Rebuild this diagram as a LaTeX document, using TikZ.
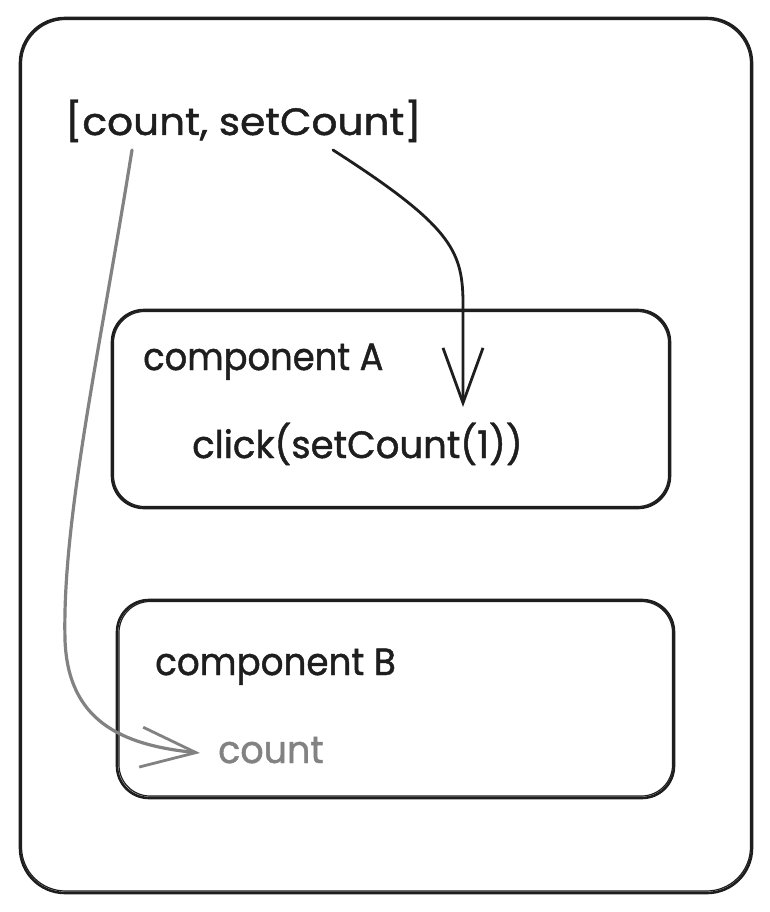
\documentclass[tikz,border=0pt]{standalone}
\usepackage{fontspec}
\setmainfont{Poppins}
\newfontfamily\handfont{Poppins}[FakeBold=1.2]
\usetikzlibrary{arrows.meta}
\definecolor{ink}{HTML}{1E1E1E}
\definecolor{arrowgray}{HTML}{828282}
\begin{document}
\begin{tikzpicture}[x=1pt,y=-1pt]
\tikzset{
  box/.style={draw=ink, line width=2.6pt, inner sep=0pt},
  sketch/.style={draw=ink, line width=1.2pt},
  lbl/.style={font=\handfont\fontsize{38}{42}\selectfont, anchor=base west, inner sep=0pt, text=ink},
  conn/.style={line width=2.8pt, line cap=round, line join=round},
  tip/.style={-{Straight Barb[length=55pt,width=40pt,line width=2.8pt]}}
}
\useasboundingbox[fill=white] (0,0) rectangle (770,912);
% boxes
\node[box, rounded corners=45pt, minimum width=732pt, minimum height=875pt] (outer) at (386,455.5) {};
\draw[sketch, rounded corners=44pt] (21.5,19.5) rectangle (750.5,891);
\node[box, rounded corners=32pt, minimum width=558pt, minimum height=198pt] (boxA) at (391,409) {};
\draw[sketch, rounded corners=31pt] (113.5,311.5) rectangle (668.5,506.5);
\node[box, rounded corners=32pt, minimum width=557pt, minimum height=198pt] (boxB) at (395.5,699) {};
\draw[sketch, rounded corners=31pt] (119,601.5) rectangle (672.5,796);
% texts
\node[lbl] (state) at (65,135) {\scalebox{1.07}[1]{[count, setCount]}};
\node[lbl] (ca) at (143,370) {\scalebox{0.93}[1]{component A}};
\node[lbl] (click) at (192,458) {\scalebox{0.975}[1]{click(setCount(1))}};
\node[lbl] (cb) at (155,675) {\scalebox{0.94}[1]{component B}};
\node[lbl, text=arrowgray] (cnt) at (218,763) {\scalebox{0.96}[1]{count}};
% connectors
\coordinate (s1) at (333,150);
\coordinate (tA) at (463,407);
\draw[conn, tip, draw=ink] (s1) .. controls (450,225) and (462,250) .. (463,300) -- (tA);
\coordinate (s2) at (132,150);
\coordinate (tB) at (200,753);
\draw[conn, tip, draw=arrowgray, line width=3.2pt] (s2) .. controls (100,350) and (62,520) .. (65,640) .. controls (68,720) and (120,745) .. (tB);
\end{tikzpicture}
\end{document}
